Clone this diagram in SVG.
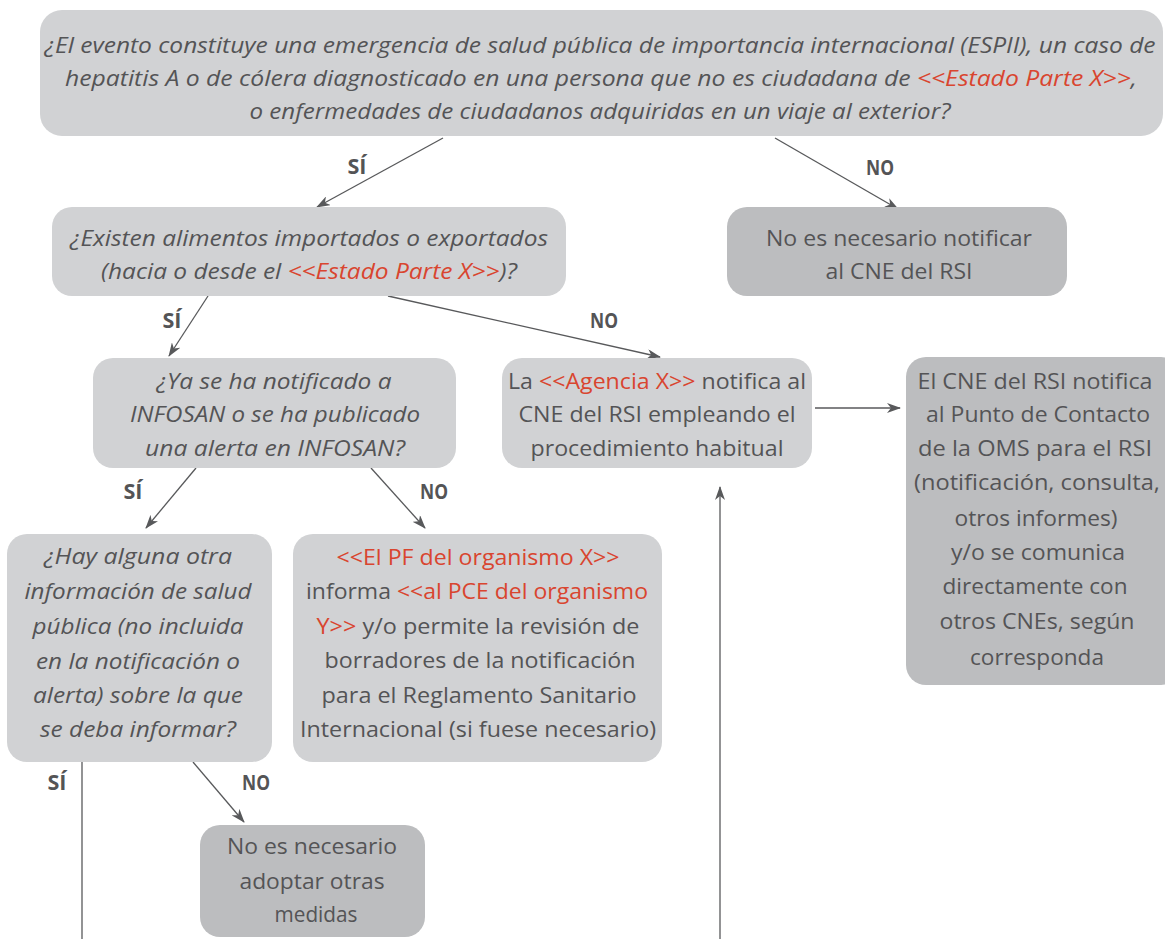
<svg xmlns="http://www.w3.org/2000/svg" width="1165" height="939" viewBox="0 0 1165 939">
<style>
.lt{fill:#d1d2d4}
.dk{fill:#bcbdbf}
text{font-family:"Open Sans","Liberation Sans",sans-serif;font-size:22.5px;fill:#545456;text-anchor:middle}
.i{font-style:italic}
.r{fill:#d9452f}
.lab{font-weight:bold;font-size:22px}
.c{stroke:#58595b;stroke-width:1.3;fill:none}
</style>
<defs>
<marker id="ah" viewBox="0 0 14 10" refX="13" refY="5" markerWidth="14" markerHeight="10" markerUnits="userSpaceOnUse" orient="auto">
<path d="M0,0 L14,5 L0,10 L4,5 z" fill="#58595b"/>
</marker>
</defs>
<rect width="1165" height="939" fill="#ffffff"/>

<g id="connectors">
<line class="c" x1="443" y1="138" x2="317" y2="207" marker-end="url(#ah)"/>
<line class="c" x1="775" y1="138" x2="898" y2="209" marker-end="url(#ah)"/>
<line class="c" x1="208" y1="296" x2="169" y2="356" marker-end="url(#ah)"/>
<line class="c" x1="388" y1="296" x2="660" y2="357" marker-end="url(#ah)"/>
<line class="c" x1="815" y1="408" x2="900" y2="408" marker-end="url(#ah)"/>
<line class="c" x1="196" y1="468" x2="146" y2="528" marker-end="url(#ah)"/>
<line class="c" x1="371" y1="468" x2="425" y2="528" marker-end="url(#ah)"/>
<line class="c" x1="82" y1="762" x2="82" y2="939"/>
<line class="c" x1="193" y1="762" x2="244" y2="822" marker-end="url(#ah)"/>
<line class="c" x1="720" y1="939" x2="720" y2="487" marker-end="url(#ah)"/>
<text class="lab" x="357" y="174" textLength="19" lengthAdjust="spacingAndGlyphs">SÍ</text>
<text class="lab" x="880" y="175" textLength="28" lengthAdjust="spacingAndGlyphs">NO</text>
<text class="lab" x="172" y="328" textLength="19" lengthAdjust="spacingAndGlyphs">SÍ</text>
<text class="lab" x="604" y="328" textLength="28" lengthAdjust="spacingAndGlyphs">NO</text>
<text class="lab" x="133" y="499" textLength="19" lengthAdjust="spacingAndGlyphs">SÍ</text>
<text class="lab" x="434" y="499" textLength="28" lengthAdjust="spacingAndGlyphs">NO</text>
<text class="lab" x="57" y="790" textLength="19" lengthAdjust="spacingAndGlyphs">SÍ</text>
<text class="lab" x="256" y="790" textLength="28" lengthAdjust="spacingAndGlyphs">NO</text>
</g>

<g id="n1">
<rect class="lt" x="40" y="10" width="1123" height="126" rx="22"/>
<text class="i" x="600" y="53" textLength="1111" lengthAdjust="spacingAndGlyphs">¿El evento constituye una emergencia de salud pública de importancia internacional (ESPII), un caso de</text>
<text class="i" x="601" y="86" textLength="1072" lengthAdjust="spacingAndGlyphs">hepatitis A o de cólera diagnosticado en una persona que no es ciudadana de <tspan class="r">&lt;&lt;Estado Parte X&gt;&gt;</tspan>,</text>
<text class="i" x="600" y="119" textLength="701" lengthAdjust="spacingAndGlyphs">o enfermedades de ciudadanos adquiridas en un viaje al exterior?</text>
</g>

<g id="n2">
<rect class="lt" x="52" y="207" width="514" height="89" rx="20"/>
<text class="i" x="309" y="246" textLength="478" lengthAdjust="spacingAndGlyphs">¿Existen alimentos importados o exportados</text>
<text class="i" x="309" y="279" textLength="416" lengthAdjust="spacingAndGlyphs">(hacia o desde el <tspan class="r">&lt;&lt;Estado Parte X&gt;&gt;</tspan>)?</text>
</g>

<g id="n3">
<rect class="dk" x="727" y="207" width="340" height="89" rx="20"/>
<text x="899" y="246" textLength="266" lengthAdjust="spacingAndGlyphs">No es necesario notificar</text>
<text x="899" y="279" textLength="147" lengthAdjust="spacingAndGlyphs">al CNE del RSI</text>
</g>

<g id="n4">
<rect class="lt" x="93" y="358" width="363" height="110" rx="20"/>
<text class="i" x="274" y="389" textLength="235" lengthAdjust="spacingAndGlyphs">¿Ya se ha notificado a</text>
<text class="i" x="275" y="422" textLength="290" lengthAdjust="spacingAndGlyphs">INFOSAN o se ha publicado</text>
<text class="i" x="275" y="456" textLength="260" lengthAdjust="spacingAndGlyphs">una alerta en INFOSAN?</text>
</g>

<g id="n5">
<rect class="lt" x="502" y="358" width="310" height="110" rx="20"/>
<text x="657" y="389" textLength="298" lengthAdjust="spacingAndGlyphs">La <tspan class="r">&lt;&lt;Agencia X&gt;&gt;</tspan> notifica al</text>
<text x="657" y="422" textLength="277" lengthAdjust="spacingAndGlyphs">CNE del RSI empleando el</text>
<text x="657" y="456" textLength="253" lengthAdjust="spacingAndGlyphs">procedimiento habitual</text>
</g>

<g id="n6">
<rect class="dk" x="906" y="357" width="275" height="328" rx="20"/>
<text x="1035" y="389" textLength="235" lengthAdjust="spacingAndGlyphs">El CNE del RSI notifica</text>
<text x="1038" y="422" textLength="224" lengthAdjust="spacingAndGlyphs">al Punto de Contacto</text>
<text x="1035" y="456" textLength="234" lengthAdjust="spacingAndGlyphs">de la OMS para el RSI</text>
<text x="1037" y="490" textLength="246" lengthAdjust="spacingAndGlyphs">(notificación, consulta,</text>
<text x="1036" y="526" textLength="163" lengthAdjust="spacingAndGlyphs">otros informes)</text>
<text x="1038" y="560" textLength="174" lengthAdjust="spacingAndGlyphs">y/o se comunica</text>
<text x="1035" y="594" textLength="185" lengthAdjust="spacingAndGlyphs">directamente con</text>
<text x="1037" y="629" textLength="195" lengthAdjust="spacingAndGlyphs">otros CNEs, según</text>
<text x="1037" y="665" textLength="134" lengthAdjust="spacingAndGlyphs">corresponda</text>
</g>

<g id="n7">
<rect class="lt" x="7" y="534" width="265" height="228" rx="20"/>
<text class="i" x="138" y="564" textLength="188" lengthAdjust="spacingAndGlyphs">¿Hay alguna otra</text>
<text class="i" x="138" y="599" textLength="227" lengthAdjust="spacingAndGlyphs">información de salud</text>
<text class="i" x="138" y="634" textLength="211" lengthAdjust="spacingAndGlyphs">pública (no incluida</text>
<text class="i" x="138" y="669" textLength="204" lengthAdjust="spacingAndGlyphs">en la notificación o</text>
<text class="i" x="138" y="703" textLength="210" lengthAdjust="spacingAndGlyphs">alerta) sobre la que</text>
<text class="i" x="138" y="737" textLength="196" lengthAdjust="spacingAndGlyphs">se deba informar?</text>
</g>

<g id="n8">
<rect class="lt" x="293" y="534" width="369" height="228" rx="20"/>
<text class="r" x="478" y="565" textLength="283" lengthAdjust="spacingAndGlyphs">&lt;&lt;El PF del organismo X&gt;&gt;</text>
<text x="477" y="599" textLength="342" lengthAdjust="spacingAndGlyphs">informa <tspan class="r">&lt;&lt;al PCE del organismo</tspan></text>
<text x="478" y="634" textLength="323" lengthAdjust="spacingAndGlyphs"><tspan class="r">Y&gt;&gt;</tspan> y/o permite la revisión de</text>
<text x="480" y="668" textLength="311" lengthAdjust="spacingAndGlyphs">borradores de la notificación</text>
<text x="479" y="703" textLength="315" lengthAdjust="spacingAndGlyphs">para el Reglamento Sanitario</text>
<text x="478" y="737" textLength="356" lengthAdjust="spacingAndGlyphs">Internacional (si fuese necesario)</text>
</g>

<g id="n9">
<rect class="dk" x="200" y="825" width="225" height="112" rx="20"/>
<text x="312" y="854" textLength="170" lengthAdjust="spacingAndGlyphs">No es necesario</text>
<text x="312" y="889" textLength="145" lengthAdjust="spacingAndGlyphs">adoptar otras</text>
<text x="316" y="922" textLength="83" lengthAdjust="spacingAndGlyphs">medidas</text>
</g>
</svg>
